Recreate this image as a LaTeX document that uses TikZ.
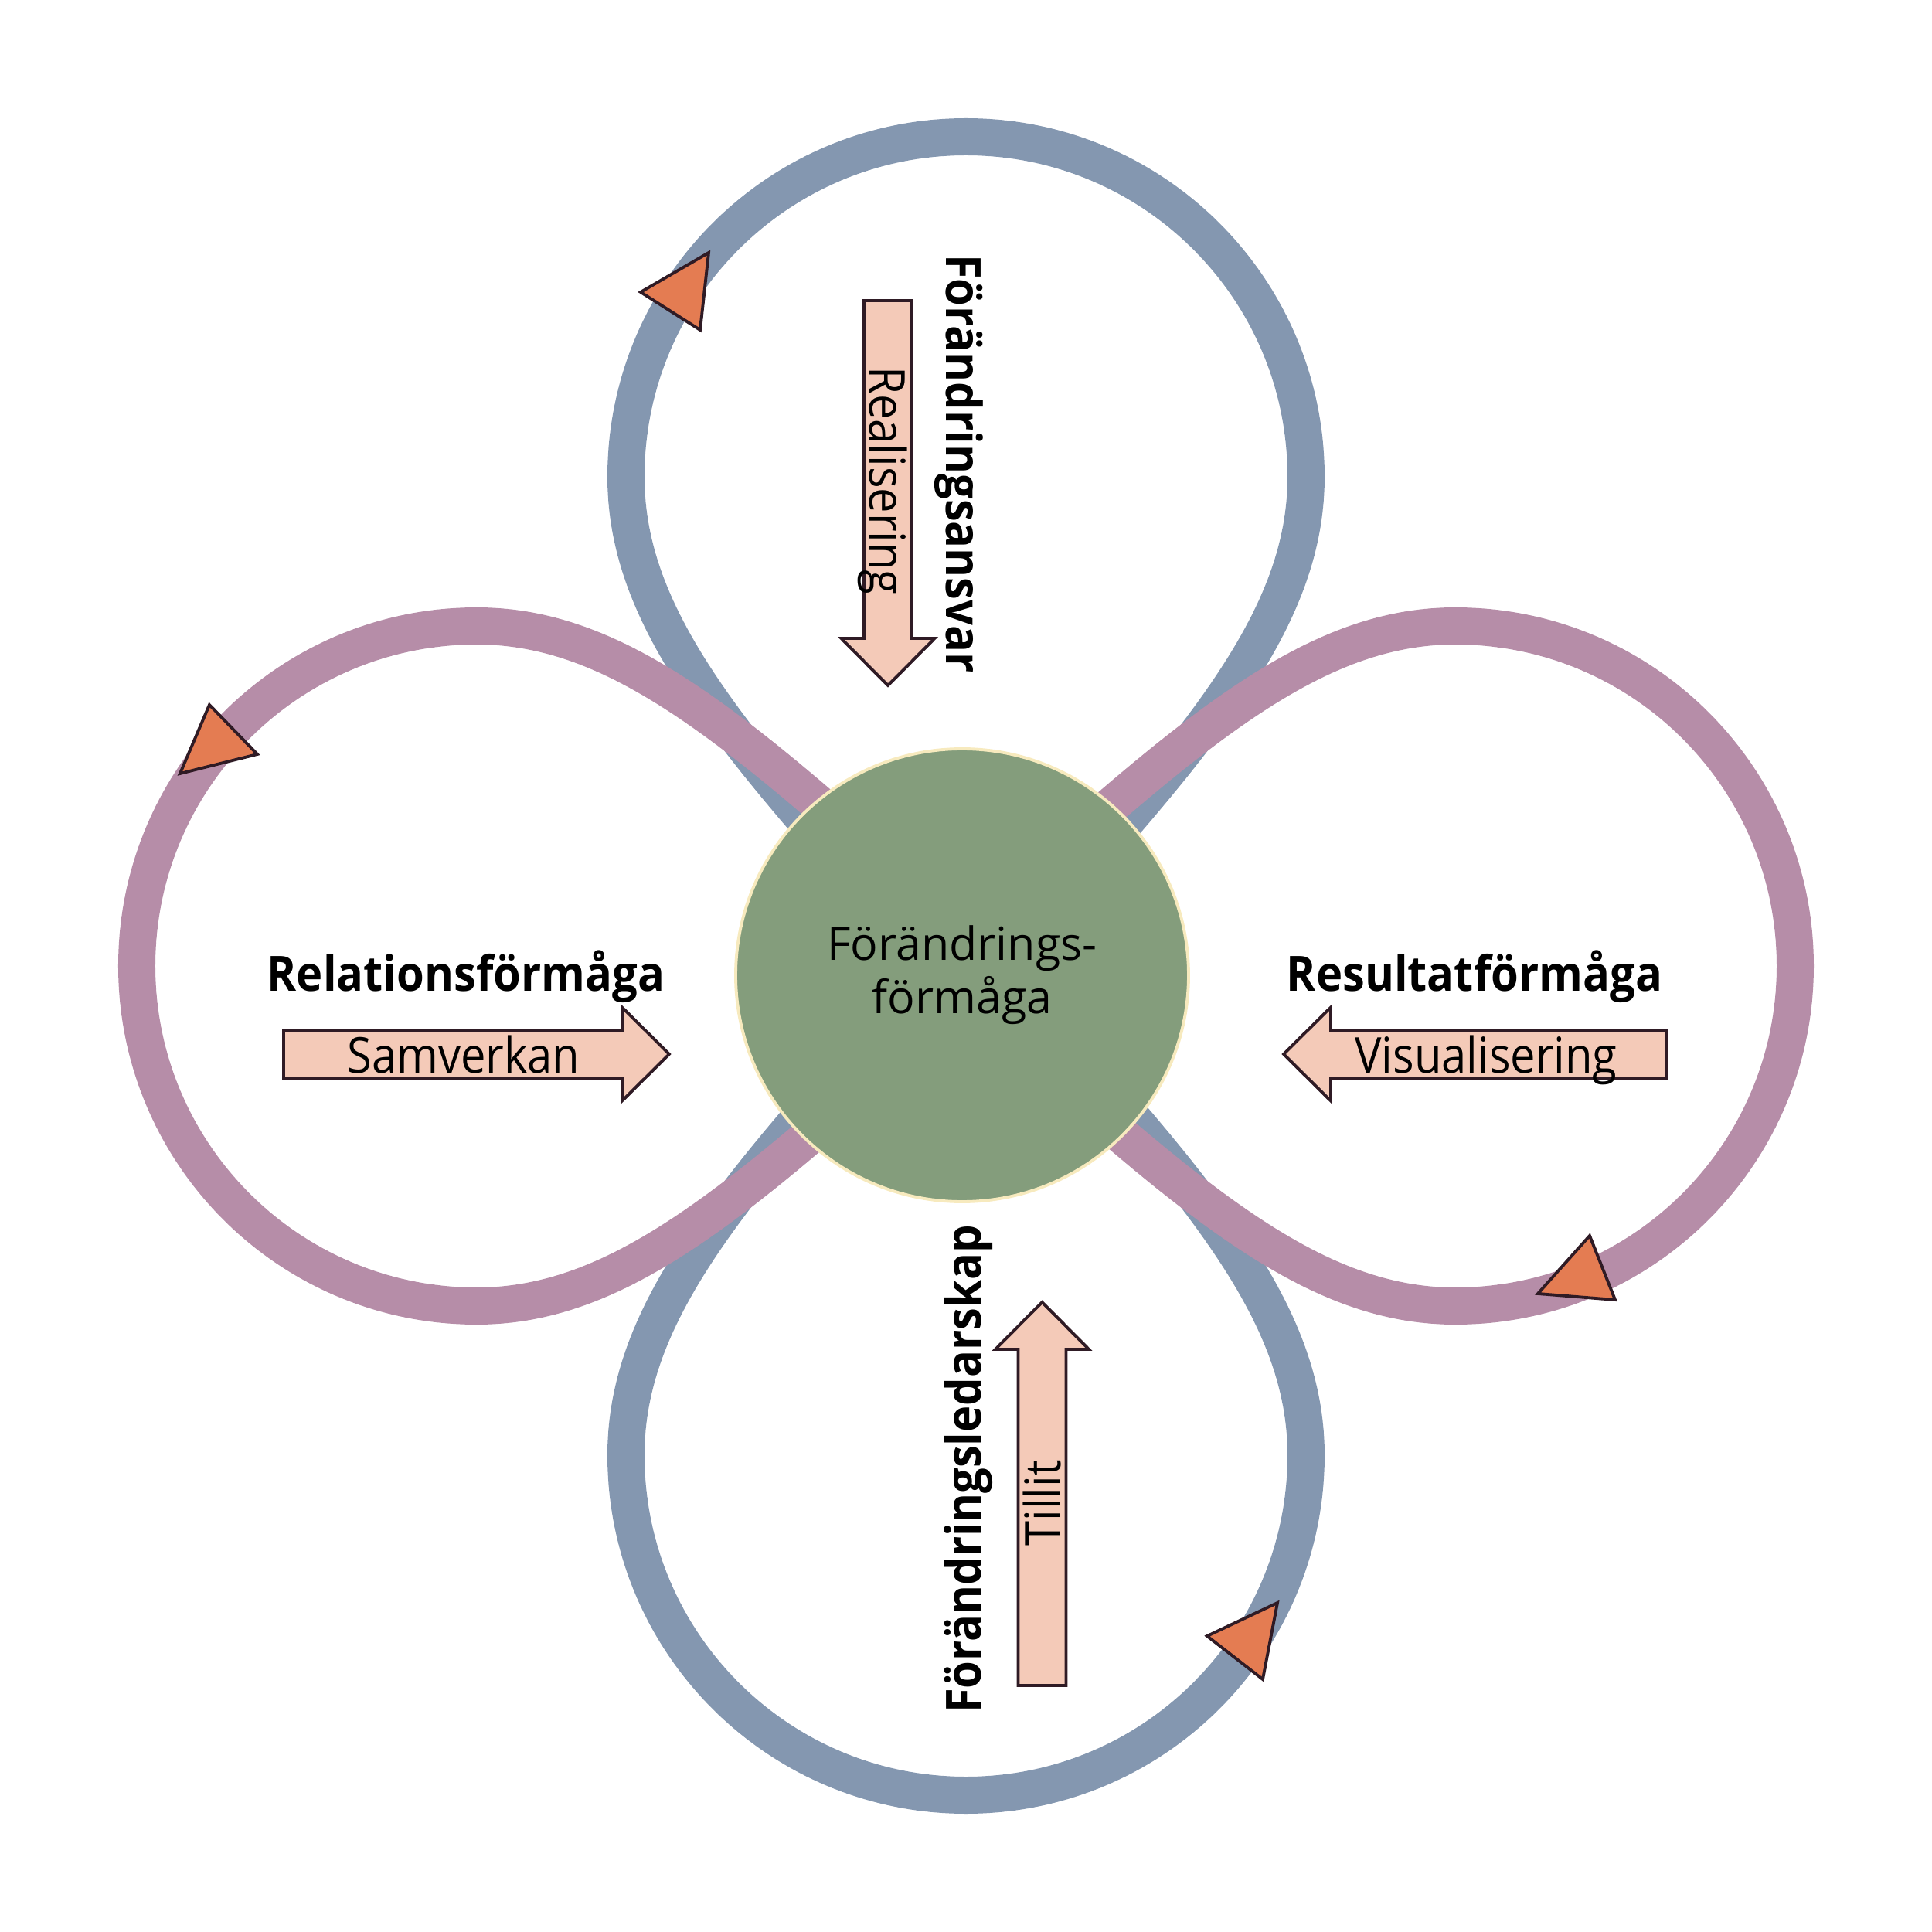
\documentclass[tikz,border=0pt]{standalone}
\usepackage{fontspec}
\setmainfont{Open Sans}
\newfontfamily\smalfont{Open Sans}[FakeStretch=0.905]
\newfontfamily\fetfont{Open Sans}[FakeStretch=0.92]
\usetikzlibrary{positioning}
\definecolor{loopblue}{RGB}{132,151,176}
\definecolor{loopmauve}{RGB}{182,141,168}
\definecolor{kjerngreen}{RGB}{132,157,124}
\definecolor{kjernring}{RGB}{247,234,190}
\definecolor{pilfill}{RGB}{244,202,184}
\definecolor{pildraw}{RGB}{47,27,37}
\definecolor{spetsfill}{RGB}{228,124,82}

\begin{document}
\begin{tikzpicture}[
  loop/.style={line width=0.48cm},
  pil/.style={fill=pilfill,draw=pildraw,line width=1.1pt,line join=miter},
  spets/.style={fill=spetsfill,draw=pildraw,line width=1.1pt,line join=miter},
  rubrik/.style={font=\fetfont\bfseries\fontsize{17.9}{21}\selectfont,inner sep=0pt,anchor=base},
  piltext/.style={font=\smalfont\fontsize{18.2}{22}\selectfont,inner sep=0pt,anchor=base}]
  \def\rad{4.4}
  \def\dist{6.33}
  \useasboundingbox (-12.5,-12.5) rectangle (12.5,12.5);
  % the four loops, blue first so that the mauve lies on top
  \foreach \ang/\clr in {90/loopblue,270/loopblue,180/loopmauve,0/loopmauve}{
    \draw[loop,draw=\clr,rotate=\ang-90] (0,-0.45) .. controls (-2.81,2.67) and ({-\rad},{\dist-2}) .. ({-\rad},\dist)
      arc[start angle=180,end angle=0,radius=\rad] .. controls (\rad,{\dist-2}) and (2.81,2.67) .. (0,-0.45);
  }
  \node[circle,fill=kjerngreen,draw=kjernring,line width=1.1pt,minimum size=5.86cm,align=center,
    font=\fontsize{16.8}{19.6}\selectfont] (kjerna) at (-0.05,-0.12) {Förändrings-\\förmåga};
  % direction marks on the loops
  \foreach \p/\q/\s in {{-4.21,8.72}/{-3.33,9.23}/{-3.44,8.23},
                        {-9.79,3.38}/{-9.17,2.74}/{-10.17,2.49},
                        {7.40,-4.24}/{8.07,-3.49}/{8.40,-4.32},
                        {3.12,-8.67}/{4.03,-8.24}/{3.84,-9.23}}
    \draw[spets] (\p) -- (\q) -- (\s) -- cycle;
  % block arrows
  \foreach \x/\y/\rot/\len in {-8.83/-1.14/0/4.38, 9.07/-1.14/180/4.35, -1.01/8.61/-90/4.37, 0.985/-9.31/90/4.35}{
    \draw[pil,shift={(\x,\y)},rotate=\rot] (0,-0.31) -- (\len,-0.31) -- (\len,-0.605) -- ({\len+0.61},0)
      -- (\len,0.605) -- (\len,0.31) -- (0,0.31) -- cycle;
  }
  \node[rubrik] (relation) at (-6.47,-0.33) {Relationsförmåga};
  \node[rubrik] (resultat) at (6.58,-0.33) {Resultatförmåga};
  \node[rubrik,rotate=-90] (ansvar) at (-0.25,6.50) {Förändringsansvar};
  \node[rubrik,rotate=90] (ledarskap) at (0.19,-6.51) {Förändringsledarskap};
  \node[piltext] (samverkan) at (-6.50,-1.38) {Samverkan};
  \node[piltext] (visual) at (6.73,-1.38) {Visualisering};
  \node[piltext,rotate=-90] (realis) at (-1.25,6.28) {Realisering};
  \node[piltext,rotate=90] (tillit) at (1.22,-6.95) {Tillit};
\end{tikzpicture}
\end{document}
